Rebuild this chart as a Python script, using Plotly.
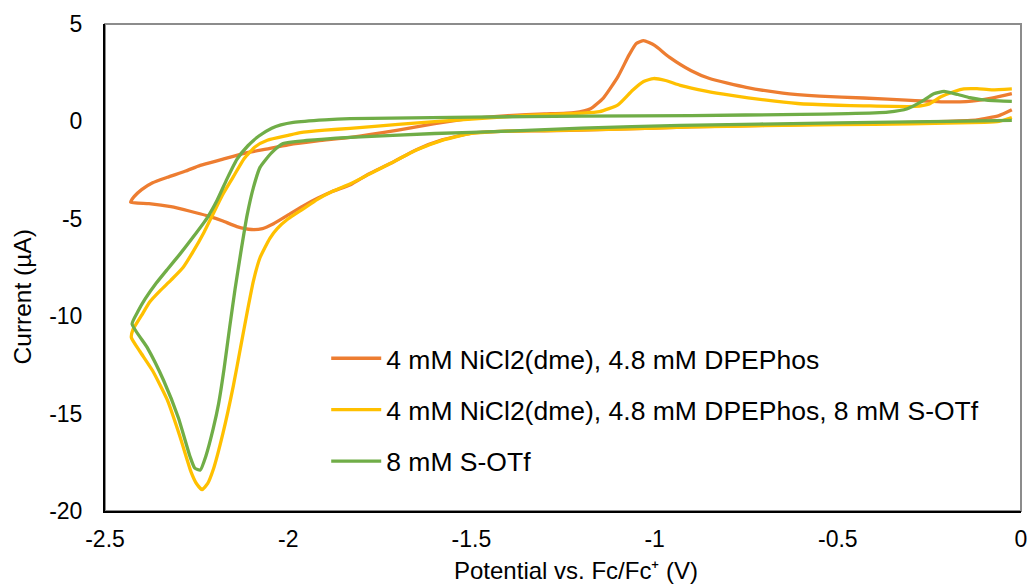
import plotly.graph_objects as go

# ---- data (potential in V vs Fc/Fc+, current in µA) ----
names = [
    "4 mM NiCl2(dme), 4.8 mM DPEPhos",
    "4 mM NiCl2(dme), 4.8 mM DPEPhos, 8 mM S-OTf",
    "8 mM S-OTf",
]

ni_x = [-0.025, -0.06, -0.12, -0.2, -0.3, -0.5, -0.7, -0.9, -1.1, -1.3, -1.4, -1.5, -1.58, -1.65,
        -1.72, -1.78, -1.83, -1.88, -1.92, -1.96, -2.0, -2.04, -2.07, -2.1, -2.14, -2.18, -2.22,
        -2.27, -2.32, -2.38, -2.43,
        -2.42, -2.40, -2.37, -2.33, -2.28, -2.24, -2.18, -2.12, -2.06, -2.0, -1.92, -1.83,
        -1.7, -1.6, -1.5, -1.4, -1.3, -1.22, -1.175, -1.14, -1.10, -1.07, -1.05, -1.03, -1.0,
        -0.96, -0.9, -0.85, -0.75, -0.65, -0.55, -0.43, -0.3, -0.2, -0.15, -0.08, -0.025]
ni_y = [0.6, 0.3, 0.08, 0.0, -0.05, -0.12, -0.2, -0.28, -0.4, -0.48, -0.5, -0.6, -0.95, -1.45,
        -2.15, -2.7, -3.25, -3.6, -3.95, -4.35, -4.8, -5.25, -5.5, -5.55, -5.4, -5.1, -4.85,
        -4.6, -4.38, -4.22, -4.15,
        -3.85, -3.5, -3.15, -2.87, -2.55, -2.26, -1.95, -1.64, -1.42, -1.2, -1.0, -0.82,
        -0.45, -0.12, 0.15, 0.3, 0.38, 0.45, 0.65, 1.2, 2.3, 3.4, 4.0, 4.15, 3.9,
        3.3, 2.6, 2.2, 1.75, 1.45, 1.3, 1.2, 1.08, 1.0, 1.02, 1.2, 1.43]

mix_x = [-0.025, -0.06, -0.1, -0.3, -0.5, -0.7, -0.9, -1.1, -1.3, -1.4, -1.5, -1.58, -1.65,
         -1.72, -1.78, -1.83, -1.88, -1.92, -1.96, -2.0, -2.03, -2.05, -2.077, -2.095, -2.11,
         -2.13, -2.15, -2.178, -2.205, -2.22, -2.235, -2.25, -2.265, -2.295, -2.33, -2.37,
         -2.405, -2.428,
         -2.424, -2.40, -2.377, -2.35, -2.32, -2.287, -2.26, -2.23, -2.205, -2.18, -2.15, -2.12,
         -2.09, -2.057, -2.0, -1.967, -1.9, -1.831, -1.7, -1.5, -1.4, -1.3, -1.2, -1.15,
         -1.1, -1.06, -1.03, -1.003, -0.97, -0.93, -0.86, -0.79, -0.7, -0.61, -0.5, -0.43,
         -0.29, -0.25, -0.22, -0.18, -0.156, -0.12, -0.08, -0.025]
mix_y = [0.2, 0.0, -0.05, -0.12, -0.17, -0.22, -0.28, -0.4, -0.47, -0.5, -0.62, -0.97, -1.47,
         -2.15, -2.72, -3.2, -3.6, -4.0, -4.5, -5.0, -5.5, -6.0, -7.0, -8.2, -9.6,
         -11.6, -13.6, -16.0, -17.9, -18.6, -18.9, -18.6, -18.0, -16.2, -14.3, -12.8,
         -11.8, -11.1,
         -10.7, -9.95, -9.25, -8.7, -8.15, -7.5, -6.7, -5.7, -4.75, -3.8, -2.85, -1.9,
         -1.3, -0.97, -0.72, -0.58, -0.45, -0.36, -0.15, 0.12, 0.25, 0.35, 0.42, 0.5,
         0.85, 1.6, 2.05, 2.2, 2.1, 1.85, 1.55, 1.33, 1.1, 0.92, 0.83, 0.8,
         0.77, 0.9, 1.25, 1.55, 1.67, 1.68, 1.62, 1.67]

sotf_x = [-0.025, -0.2, -0.5, -0.929, -1.2, -1.4, -1.6, -1.831, -1.95, -2.014, -2.045, -2.077,
          -2.095, -2.112, -2.13, -2.145, -2.16, -2.175, -2.19, -2.205, -2.225, -2.24, -2.255,
          -2.268, -2.30, -2.34, -2.385, -2.426,
          -2.41, -2.39, -2.36, -2.33, -2.295, -2.26, -2.221, -2.194, -2.167, -2.14, -2.11,
          -2.08, -2.045, -2.02, -1.986, -1.9, -1.831, -1.5, -1.2, -0.9, -0.6, -0.473, -0.363,
          -0.31, -0.273, -0.238, -0.21, -0.172, -0.14, -0.109, -0.06, -0.025]
sotf_y = [0.05, 0.0, -0.08, -0.2, -0.35, -0.5, -0.62, -0.82, -0.98, -1.13, -1.6, -2.36,
          -3.4, -4.8, -6.8, -8.6, -10.6, -12.7, -14.5, -15.8, -17.2, -17.9, -17.8,
          -17.2, -15.2, -13.3, -11.6, -10.4,
          -9.75, -9.1, -8.3, -7.6, -6.8, -5.95, -4.95, -4.05, -2.95, -1.95, -1.25,
          -0.75, -0.35, -0.18, -0.05, 0.08, 0.14, 0.22, 0.27, 0.3, 0.36, 0.4, 0.48,
          0.65, 1.0, 1.42, 1.54, 1.38, 1.22, 1.12, 1.05, 1.03]

x_ticks = [-2.5, -2, -1.5, -1, -0.5, 0]
x_ticktext = ["-2.5", "-2", "-1.5", "-1", "-0.5", "0"]
y_ticks = [-20, -15, -10, -5, 0, 5]
y_ticktext = ["-20", "-15", "-10", "-5", "0", "5"]
x_title = "Potential vs. Fc/Fc⁺ (V)"
y_title = "Current (µA)"

colors = ["#ED7D31", "#FFC000", "#70AD47"]
FONT = "Liberation Sans, Arial, sans-serif"

fig = go.Figure()
for i, (xs, ys) in enumerate([(ni_x, ni_y), (mix_x, mix_y), (sotf_x, sotf_y)]):
    fig.add_trace(go.Scatter(
        x=xs, y=ys, mode="lines", name=names[i], legendgroup=f"g{i}",
        line=dict(color=colors[i], width=3.3, shape="spline", smoothing=0.5),
    ))

fig.update_layout(
    width=1032, height=584,
    margin=dict(l=105, r=11, t=24, b=73),
    paper_bgcolor="white", plot_bgcolor="white",
    font=dict(family=FONT, color="black", size=23),
    showlegend=True,
    legend=dict(
        x=0.2415, y=0.3624, xanchor="left", yanchor="top",
        bgcolor="rgba(0,0,0,0)", borderwidth=0,
        font=dict(family=FONT, size=26.5, color="black"),
        tracegroupgap=14, itemwidth=50,
    ),
    shapes=[dict(type="rect", xref="paper", yref="paper", x0=0, x1=1, y0=0, y1=1,
                 line=dict(color="#8c8c8c", width=2), layer="below")],
    annotations=[
        dict(text=x_title, xref="paper", yref="paper", x=0.5137, y=-0.1232,
             xanchor="center", yanchor="middle", showarrow=False,
             font=dict(size=24, family=FONT, color="black")),
        dict(text=y_title, xref="paper", yref="paper", x=-0.0896, y=0.4405,
             xanchor="center", yanchor="middle", showarrow=False, textangle=-90,
             font=dict(size=24.5, family=FONT, color="black")),
    ],
)
fig.update_xaxes(
    range=[-2.5, 0], tickmode="array", tickvals=x_ticks, ticktext=x_ticktext,
    showgrid=False, zeroline=False, showline=True, linecolor="black", linewidth=2,
    ticks="", ticklabelstandoff=6, automargin=False,
    tickfont=dict(size=23, family=FONT, color="black"),
)
fig.update_yaxes(
    range=[-20, 5], tickmode="array", tickvals=y_ticks, ticktext=y_ticktext,
    showgrid=False, zeroline=False, showline=True, linecolor="black", linewidth=2,
    ticks="", ticklabelstandoff=16, automargin=False,
    tickfont=dict(size=23, family=FONT, color="black"),
)

fig.write_html("out.html", config={"displayModeBar": False},
               post_script="document.body.style.margin='0';")
